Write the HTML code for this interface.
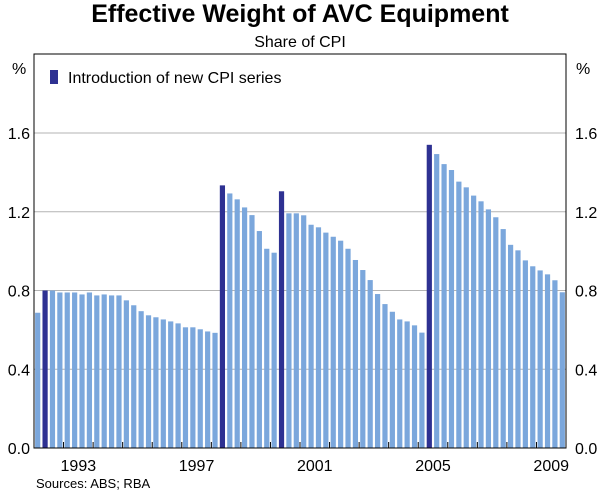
<!DOCTYPE html>
<html><head><meta charset="utf-8"><style>
body{margin:0;background:#fff;}
svg text{font-family:"Liberation Sans",Arial,sans-serif;fill:#000;}
</style></head><body>
<svg id="chart" width="600" height="494" viewBox="0 0 600 494">
<text x="300" y="22" font-size="25" font-weight="bold" text-anchor="middle">Effective Weight of AVC Equipment</text>
<text x="300" y="47" font-size="16" text-anchor="middle">Share of CPI</text>
<g id="grid"></g>
<g id="bars"></g>
<rect x="34" y="54" width="532" height="394" fill="none" stroke="#000" stroke-width="1"/>
<g id="axes"></g>
<rect x="50" y="70" width="8" height="14" fill="#2e3192"/>
<text x="68" y="83" font-size="16">Introduction of new CPI series</text>
<text x="36" y="488" font-size="13">Sources: ABS; RBA</text>
</svg>
<script>
const values = [0.687,0.80,0.80,0.79,0.79,0.79,0.78,0.79,0.775,0.78,0.775,0.775,0.75,0.725,0.695,0.674,0.664,0.653,0.643,0.633,0.613,0.613,0.603,0.592,0.585,
1.334,1.293,1.263,1.222,1.183,1.102,1.012,0.992,
1.304,1.192,1.192,1.182,1.134,1.121,1.094,1.073,1.053,1.012,0.955,0.904,0.853,0.782,0.731,0.692,0.653,0.643,0.623,0.586,
1.540,1.493,1.442,1.412,1.353,1.324,1.282,1.253,1.212,1.172,1.112,1.032,1.004,0.953,0.923,0.902,0.882,0.852,0.791];
const newSeries = [1,25,33,53];
const yTicks = [0.0,0.4,0.8,1.2,1.6];
const yearLabels = [1993,1997,2001,2005,2009];
const startYear = 1992;
const NS="http://www.w3.org/2000/svg";
const X0=34,X1=566,Y0=448,Y1=133,YMAX=1.6;
const step=(X1-X0)/values.length;
const ys=v=>Y0-(v/YMAX)*(Y0-Y1);
const xq=i=>X0+(i+0.5)*step;
const xy=y=>X0+(y-startYear)*4*step;
function mk(t,a,p){const e=document.createElementNS(NS,t);for(const k in a)e.setAttribute(k,a[k]);p.appendChild(e);return e;}
const grid=document.getElementById('grid'),bars=document.getElementById('bars'),axes=document.getElementById('axes');
yTicks.forEach(t=>{
 if(t>0){const l=mk('line',{x1:X0,x2:X1,y1:ys(t),y2:ys(t),stroke:'#b3b3b3','stroke-width':1},grid);
 
 }
 const s=t.toFixed(1);
 const a=mk('text',{x:X0-4,y:ys(t)+6,'font-size':16,'text-anchor':'end'},axes);a.textContent=s;
 
 
 const b=mk('text',{x:X1+9,y:ys(t)+6,'font-size':16},axes);b.textContent=s;
 
 
});
let u=mk('text',{x:12,y:74,'font-size':16},axes);u.textContent='%';


u=mk('text',{x:576,y:74,'font-size':16},axes);u.textContent='%';


values.forEach((v,i)=>{
 const dark=newSeries.includes(i);
 const r=mk('rect',{x:xq(i)-2.6,y:ys(v),width:5.2,height:Y0-ys(v),fill:dark?'#2e3192':'#7ba7dc'},bars);
 
 
});
for(let y=startYear+1;y<startYear+values.length/4;y++){
 const t=mk('line',{x1:xy(y),x2:xy(y),y1:Y0,y2:Y0-6,stroke:'#000','stroke-width':1},axes);
 
 
}
yearLabels.forEach(y=>{
 const t=mk('text',{x:xy(y)+2*step,y:471,'font-size':16,'text-anchor':'middle'},axes);t.textContent=y;
 
 
});
</script>
</body></html>
